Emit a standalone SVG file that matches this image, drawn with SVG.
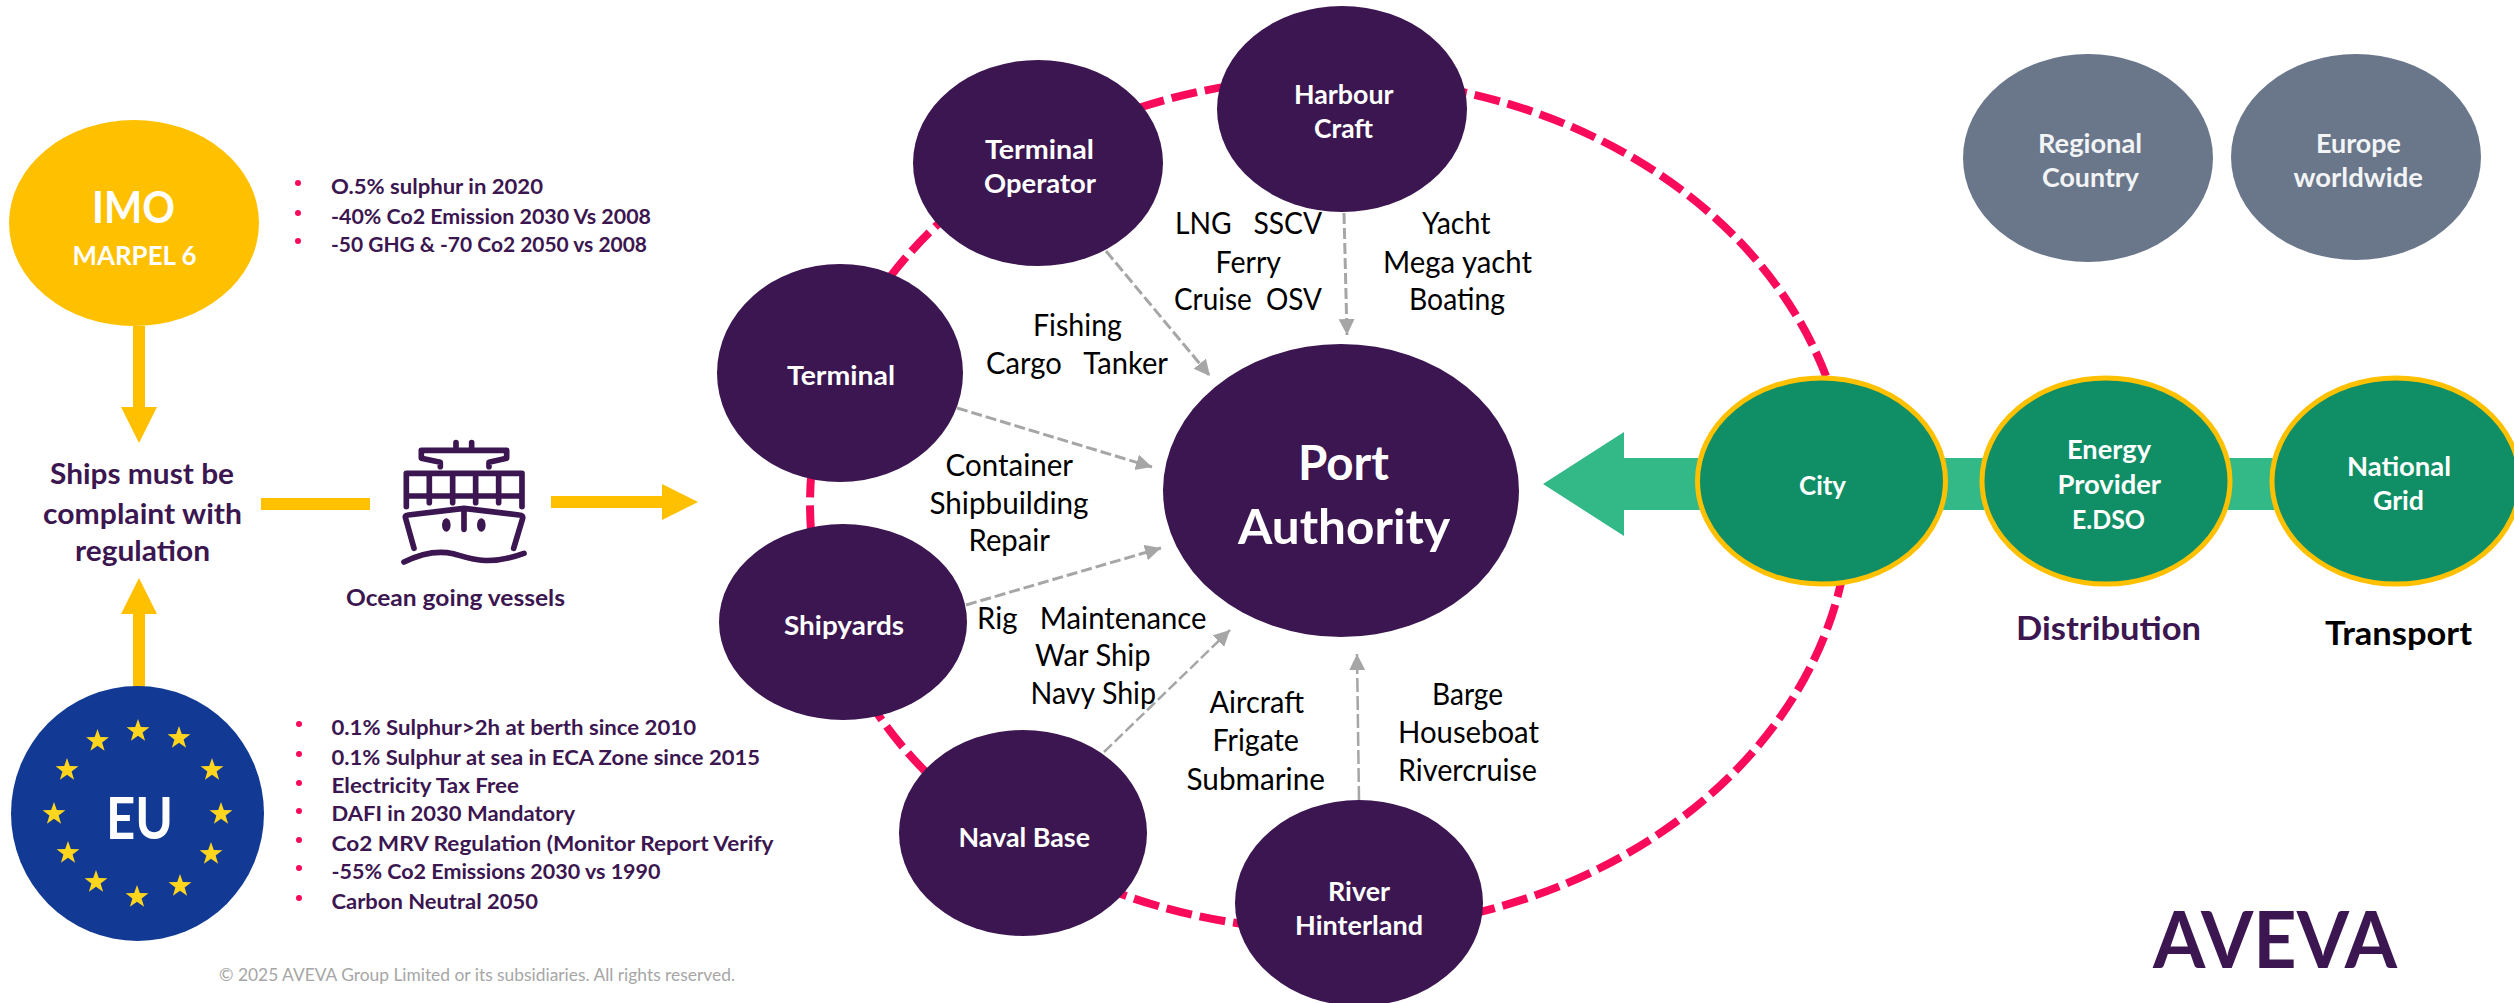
<svg xmlns="http://www.w3.org/2000/svg" width="2514" height="1003" viewBox="0 0 2514 1003">
<style>
text{font-family:"Lato","Carlito","Open Sans",sans-serif;transform:translate(0,1.5px)}
.p{fill:#3B1650}
.g{fill:#108F67;stroke:#FFC000;stroke-width:5}
.s{fill:#6A778B}
.y{fill:#FFC000}
.w{fill:#fff;font-weight:700;font-size:26px}
.big{fill:#fff;font-weight:700;font-size:47px}
.l{fill:#000;font-size:30px}
.b{fill:#3B1650;font-weight:700;font-size:21px}
.d{fill:#FA0A5A}
.c{fill:none;stroke:#A6A6A6;stroke-width:3;stroke-dasharray:11 4;marker-end:url(#ah)}
.star{fill:#FFD51E}
.ship{fill:none;stroke:#3B1650;stroke-width:17;stroke-linecap:round;stroke-linejoin:round}
</style>
<defs>
<marker id="ah" markerUnits="userSpaceOnUse" markerWidth="18" markerHeight="18" refX="16" refY="8" orient="auto"><polygon points="0,0 16,8 0,16" fill="#A6A6A6"/></marker>
<polygon id="st" points="0,-12 2.8,-3.9 11.4,-3.7 4.6,1.5 7.1,9.7 0,4.8 -7.1,9.7 -4.6,1.5 -11.4,-3.7 -2.8,-3.9"/>
</defs>
<rect width="2514" height="1003" fill="#fff"/>

<g id="connectors">
<ellipse cx="1330" cy="504" rx="520" ry="426" fill="none" stroke="#FA0A5A" stroke-width="8" stroke-dasharray="26 8"/>
<path class="c" d="M1106 251L1210 376"/>
<path class="c" d="M1344 213L1347 335"/>
<path class="c" d="M957 408L1152 467"/>
<path class="c" d="M966 605L1161 548"/>
<path class="c" d="M1104 752L1230 630" style="stroke-width:2.5"/>
<path class="c" d="M1359 800L1357 654" style="stroke-width:2.5;stroke-dasharray:14 4"/>
<rect class="y" x="133" y="326" width="12" height="82"/>
<polygon class="y" points="121,407 157,407 139,443"/>
<rect class="y" x="133" y="613" width="12" height="74"/>
<polygon class="y" points="121,614 157,614 139,578"/>
<rect class="y" x="261" y="498" width="109" height="12"/>
<rect class="y" x="551" y="496" width="112" height="12"/>
<polygon class="y" points="662,484 698,502 662,520"/>
<polygon fill="#33B888" points="1543,484 1624,432 1624,458 2300,458 2300,510 1624,510 1624,536"/>
</g>

<g id="imo"><ellipse class="y" cx="134" cy="223" rx="125" ry="103"/>
<text x="92" y="221" fill="#fff" font-weight="700" font-size="44" textLength="83" lengthAdjust="spacingAndGlyphs">IMO</text>
<text x="72.5" y="263" fill="#fff" font-weight="700" font-size="26" textLength="124" lengthAdjust="spacingAndGlyphs">MARPEL 6</text></g>

<g id="imo-list">
<circle class="d" cx="298" cy="183" r="3"/><circle class="d" cx="298" cy="213" r="3"/><circle class="d" cx="298" cy="241" r="3"/>
<text class="b" x="331" y="192" textLength="212" lengthAdjust="spacingAndGlyphs">O.5% sulphur in 2020</text>
<text class="b" x="331" y="222" textLength="320" lengthAdjust="spacingAndGlyphs">-40% Co2 Emission 2030 Vs 2008</text>
<text class="b" x="331" y="250" textLength="316" lengthAdjust="spacingAndGlyphs">-50 GHG &amp; -70 Co2 2050 vs 2008</text>
</g>

<g id="regulation">
<text x="50" y="482" fill="#3B1650" font-weight="700" font-size="28" textLength="184" lengthAdjust="spacingAndGlyphs">Ships must be</text>
<text x="43" y="522" fill="#3B1650" font-weight="700" font-size="28" textLength="199" lengthAdjust="spacingAndGlyphs">complaint with</text>
<text x="75" y="559" fill="#3B1650" font-weight="700" font-size="28" textLength="135" lengthAdjust="spacingAndGlyphs">regulation</text>
</g>

<g id="ocean-vessels">
<g transform="translate(330 410) scale(.3333)">
<path class="ship" d="M378 98V115M425 98V115M331 170V157L274 145V121H530V145L477 157V170"/>
<path class="ship" d="M229 290V190H576V290M229 258H576M298 190V278M368 190V278M437 190V278M506 190V278"/>
<path class="ship" d="M252 415L226 322Q225 316 235 315L402 295L568 315Q580 316 578 325L551 415M402 300V358"/>
<ellipse cx="349" cy="345" rx="13" ry="20" class="p"/><ellipse cx="454" cy="345" rx="13" ry="20" class="p"/>
<path class="ship" d="M222 456C270 432 320 420 370 431C420 445 470 470 582 430"/>
</g>
<text x="346" y="604" fill="#3B1650" font-weight="700" font-size="23" textLength="219" lengthAdjust="spacingAndGlyphs">Ocean going vessels</text>
</g>

<g id="eu"><ellipse cx="137.5" cy="813.5" rx="126.5" ry="127.5" fill="#123A94"/>
<g class="star">
<use href="#st" x="138" y="731"/><use href="#st" x="179" y="738"/><use href="#st" x="212" y="770"/><use href="#st" x="221" y="814"/><use href="#st" x="211" y="854"/><use href="#st" x="180" y="886"/><use href="#st" x="137" y="897"/><use href="#st" x="96" y="882"/><use href="#st" x="68" y="853"/><use href="#st" x="54" y="814"/><use href="#st" x="67" y="770"/><use href="#st" x="97.5" y="741"/>
</g>
<text x="106" y="837" fill="#fff" font-weight="700" font-size="58" textLength="67" lengthAdjust="spacingAndGlyphs">EU</text></g>

<g id="eu-list">
<circle class="d" cx="299" cy="724" r="3"/><circle class="d" cx="299" cy="754" r="3"/><circle class="d" cx="299" cy="783" r="3"/><circle class="d" cx="299" cy="811" r="3"/><circle class="d" cx="299" cy="840" r="3"/><circle class="d" cx="299" cy="868" r="3"/><circle class="d" cx="299" cy="898" r="3"/>
<text class="b" x="331.5" y="733" textLength="364.5" lengthAdjust="spacingAndGlyphs">0.1% Sulphur&gt;2h at berth since 2010</text>
<text class="b" x="331.5" y="763" textLength="428.5" lengthAdjust="spacingAndGlyphs">0.1% Sulphur at sea in ECA Zone since 2015</text>
<text class="b" x="331.5" y="791" textLength="187.5" lengthAdjust="spacingAndGlyphs">Electricity Tax Free</text>
<text class="b" x="331.5" y="819" textLength="243.5" lengthAdjust="spacingAndGlyphs">DAFI in 2030 Mandatory</text>
<text class="b" x="331.5" y="849" textLength="442" lengthAdjust="spacingAndGlyphs">Co2 MRV Regulation (Monitor Report Verify</text>
<text class="b" x="331.5" y="877" textLength="329" lengthAdjust="spacingAndGlyphs">-55% Co2 Emissions 2030 vs 1990</text>
<text class="b" x="331.5" y="907" textLength="206.5" lengthAdjust="spacingAndGlyphs">Carbon Neutral 2050</text>
</g>

<g id="footer"><text x="219" y="979" fill="#A6A6A6" font-size="17" textLength="516" lengthAdjust="spacingAndGlyphs">© 2025 AVEVA Group Limited or its subsidiaries. All rights reserved.</text></g>

<g id="terminal-operator"><ellipse class="p" cx="1038" cy="163" rx="125" ry="103"/>
<text class="w" x="985" y="157" textLength="109" lengthAdjust="spacingAndGlyphs">Terminal</text>
<text class="w" x="984" y="191" textLength="112" lengthAdjust="spacingAndGlyphs">Operator</text></g>
<g id="harbour-craft"><ellipse class="p" cx="1342" cy="109" rx="125" ry="103"/>
<text class="w" x="1294" y="102" textLength="99.5" lengthAdjust="spacingAndGlyphs">Harbour</text>
<text class="w" x="1314" y="136" textLength="59" lengthAdjust="spacingAndGlyphs">Craft</text></g>
<g id="terminal"><ellipse class="p" cx="840" cy="373" rx="123" ry="109"/>
<text class="w" x="787" y="383" textLength="108" lengthAdjust="spacingAndGlyphs">Terminal</text></g>
<g id="port-authority"><ellipse class="p" cx="1341" cy="490.5" rx="178" ry="146.5"/>
<text class="big" x="1298" y="478" textLength="91" lengthAdjust="spacingAndGlyphs">Port</text>
<text class="big" x="1238" y="542" textLength="212" lengthAdjust="spacingAndGlyphs">Authority</text></g>
<g id="shipyards"><ellipse class="p" cx="843" cy="622" rx="124" ry="98"/>
<text class="w" x="784" y="633" textLength="120" lengthAdjust="spacingAndGlyphs">Shipyards</text></g>
<g id="naval-base"><ellipse class="p" cx="1023" cy="833" rx="124" ry="103"/>
<text class="w" x="958.5" y="845" textLength="131.5" lengthAdjust="spacingAndGlyphs">Naval Base</text></g>
<g id="river-hinterland"><ellipse class="p" cx="1359" cy="903" rx="124" ry="103"/>
<text class="w" x="1328" y="899" textLength="62" lengthAdjust="spacingAndGlyphs">River</text>
<text class="w" x="1295" y="933" textLength="128" lengthAdjust="spacingAndGlyphs">Hinterland</text></g>

<g id="vessel-labels">
<text class="l" x="1033" y="334" textLength="89" lengthAdjust="spacingAndGlyphs">Fishing</text>
<text class="l" x="986" y="372" textLength="182" lengthAdjust="spacingAndGlyphs" xml:space="preserve">Cargo   Tanker</text>
<text class="l" x="1175" y="232" textLength="147" lengthAdjust="spacingAndGlyphs" xml:space="preserve">LNG   SSCV</text>
<text class="l" x="1215.5" y="271" textLength="65.5" lengthAdjust="spacingAndGlyphs">Ferry</text>
<text class="l" x="1174" y="308" textLength="148" lengthAdjust="spacingAndGlyphs" xml:space="preserve">Cruise  OSV</text>
<text class="l" x="1422" y="232" textLength="68.5" lengthAdjust="spacingAndGlyphs">Yacht</text>
<text class="l" x="1383" y="271" textLength="149" lengthAdjust="spacingAndGlyphs">Mega yacht</text>
<text class="l" x="1409" y="308" textLength="96" lengthAdjust="spacingAndGlyphs">Boating</text>
<text class="l" x="945.5" y="474" textLength="127.5" lengthAdjust="spacingAndGlyphs">Container</text>
<text class="l" x="929.5" y="512" textLength="159" lengthAdjust="spacingAndGlyphs">Shipbuilding</text>
<text class="l" x="968.5" y="549" textLength="81.5" lengthAdjust="spacingAndGlyphs">Repair</text>
<text class="l" x="977" y="627" textLength="229.5" lengthAdjust="spacingAndGlyphs" xml:space="preserve">Rig   Maintenance</text>
<text class="l" x="1035" y="664" textLength="115.5" lengthAdjust="spacingAndGlyphs">War Ship</text>
<text class="l" x="1030.5" y="702" textLength="125.5" lengthAdjust="spacingAndGlyphs">Navy Ship</text>
<text class="l" x="1209.5" y="711" textLength="94.5" lengthAdjust="spacingAndGlyphs">Aircraft</text>
<text class="l" x="1212.5" y="749" textLength="86.5" lengthAdjust="spacingAndGlyphs">Frigate</text>
<text class="l" x="1186.5" y="788" textLength="138.5" lengthAdjust="spacingAndGlyphs">Submarine</text>
<text class="l" x="1432" y="703" textLength="71" lengthAdjust="spacingAndGlyphs">Barge</text>
<text class="l" x="1398" y="741" textLength="141" lengthAdjust="spacingAndGlyphs">Houseboat</text>
<text class="l" x="1398" y="779" textLength="139" lengthAdjust="spacingAndGlyphs">Rivercruise</text>
</g>

<g id="city"><ellipse class="g" cx="1821.5" cy="481" rx="124" ry="103"/>
<text class="w" x="1799" y="493" textLength="47" lengthAdjust="spacingAndGlyphs">City</text></g>
<g id="energy-provider"><ellipse class="g" cx="2106" cy="481" rx="124" ry="103"/>
<text class="w" x="2067" y="457" textLength="84" lengthAdjust="spacingAndGlyphs">Energy</text>
<text class="w" x="2057.5" y="492" textLength="103.5" lengthAdjust="spacingAndGlyphs">Provider</text>
<text class="w" x="2072" y="527" textLength="73" lengthAdjust="spacingAndGlyphs">E.DSO</text></g>
<g id="national-grid"><ellipse class="g" cx="2396" cy="481" rx="124" ry="103"/>
<text class="w" x="2347" y="474" textLength="104" lengthAdjust="spacingAndGlyphs">National</text>
<text class="w" x="2373" y="508" textLength="51" lengthAdjust="spacingAndGlyphs">Grid</text></g>
<g id="distribution"><text x="2016" y="638" fill="#3B1650" font-weight="700" font-size="33" textLength="185" lengthAdjust="spacingAndGlyphs">Distribution</text></g>
<g id="transport"><text x="2325" y="643" fill="#000" font-weight="700" font-size="33" textLength="147" lengthAdjust="spacingAndGlyphs">Transport</text></g>

<g id="regional-country"><ellipse class="s" cx="2088" cy="158" rx="125" ry="104"/>
<text class="w" x="2038" y="151" textLength="104" lengthAdjust="spacingAndGlyphs" style="font-size:27px;font-weight:700;fill:#F2F4F6">Regional</text>
<text class="w" x="2042" y="185" textLength="97" lengthAdjust="spacingAndGlyphs" style="font-size:27px;font-weight:700;fill:#F2F4F6">Country</text></g>
<g id="europe-worldwide"><ellipse class="s" cx="2356" cy="157" rx="125" ry="103"/>
<text class="w" x="2316" y="151" textLength="85" lengthAdjust="spacingAndGlyphs" style="font-size:27px;font-weight:700;fill:#F2F4F6">Europe</text>
<text class="w" x="2293.5" y="185" textLength="129.5" lengthAdjust="spacingAndGlyphs" style="font-size:27px;font-weight:700;fill:#F2F4F6">worldwide</text></g>

<g id="aveva-logo"><text x="2153" y="966.5" fill="#3B1650" font-weight="700" font-size="78" textLength="244" lengthAdjust="spacingAndGlyphs">AVEVA</text></g>
</svg>
